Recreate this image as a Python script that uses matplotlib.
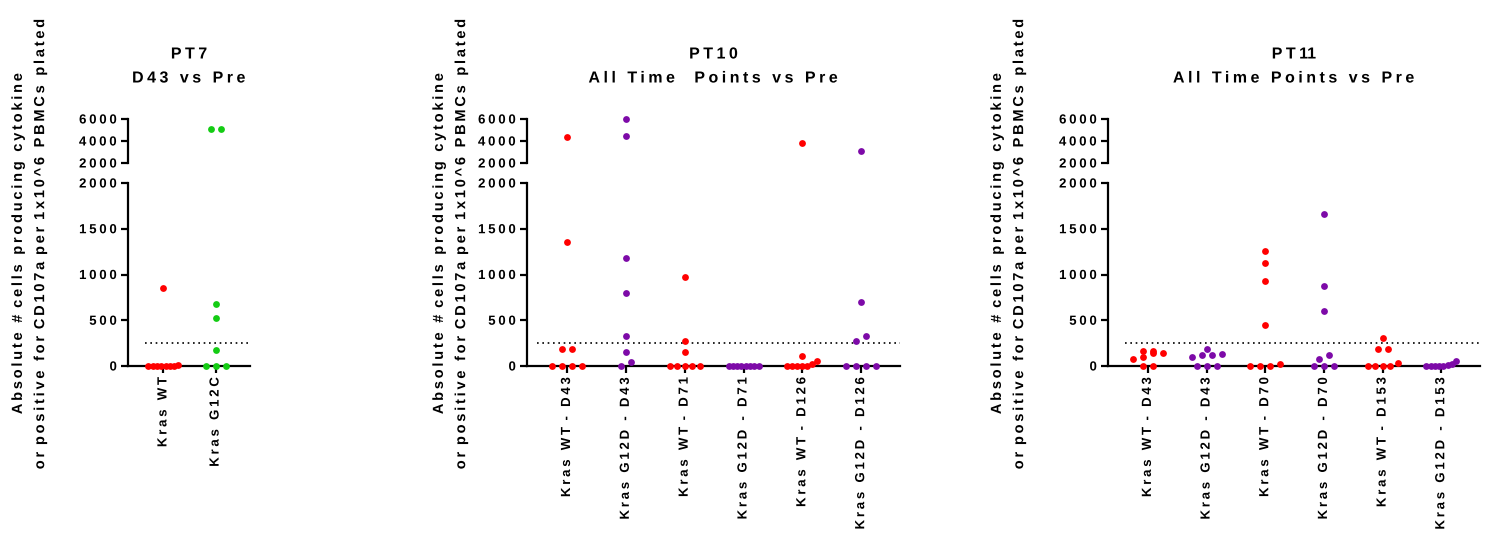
import numpy as np
import matplotlib
matplotlib.use("Agg")
import matplotlib.pyplot as plt
from matplotlib.patheffects import AbstractPathEffect
from matplotlib.path import Path

plt.rcParams['font.family'] = ['Liberation Sans', 'DejaVu Sans']
plt.rcParams['font.weight'] = 'bold'

RED = '#ff0000'
GREEN = '#14cc14'
PURPLE = '#7d0aa8'

# PT7
pt7_labels = ['Kras WT', 'Kras G12C']
pt7_colors = [RED, GREEN]
pt7_values = [
    [850, 10, 5, 0, 0, 0, 0, 0, 0],
    [5100, 5100, 680, 520, 170, 0, 0, 0],
]

# PT10
pt10_labels = ['Kras WT - D43', 'Kras G12D - D43', 'Kras WT - D71',
               'Kras G12D - D71', 'Kras WT - D126', 'Kras G12D - D126']
pt10_colors = [RED, PURPLE, RED, PURPLE, RED, PURPLE]
pt10_values = [
    [4330, 1360, 185, 185, 0, 0, 0, 0],
    [6000, 4480, 1175, 795, 325, 150, 45, 0],
    [975, 270, 153, 0, 0, 0, 0, 0],
    [0, 0, 0, 0, 0, 0, 0, 0],
    [3790, 105, 55, 20, 0, 0, 0, 0, 0],
    [3060, 700, 325, 270, 0, 0, 0, 0],
]

# PT11
pt11_labels = ['Kras WT - D43', 'Kras G12D - D43', 'Kras WT - D70',
               'Kras G12D - D70', 'Kras WT - D153', 'Kras G12D - D153']
pt11_colors = [RED, PURPLE, RED, PURPLE, RED, PURPLE]
pt11_values = [
    [160, 75, 140, 140, 95, 160, 0, 0],
    [115, 130, 125, 190, 95, 0, 0, 0],
    [1255, 1130, 925, 452, 20, 0, 0, 0],
    [1665, 875, 598, 117, 73, 0, 0, 0],
    [310, 186, 186, 30, 0, 0, 0, 0],
    [50, 25, 10, 0, 0, 0, 0, 0],
]

titles = ['PT7\nD43 vs Pre', 'PT10\nAll Time  Points vs Pre', 'PT11\nAll Time Points vs Pre']
ylabel = 'Absolute # cells producing cytokine\nor positive for CD107a per 1x10^6 PBMCs plated'
threshold = 250


class Tracking(AbstractPathEffect):
    """Spread glyphs apart (letter spacing), like the GraphPad export."""

    def __init__(self, em=0.2, anchor='center'):
        super().__init__()
        self.em = em
        self.anchor = anchor

    def draw_path(self, renderer, gc, tpath, affine, rgbFace=None):
        codes = tpath.codes
        if codes is None or len(codes) == 0:
            return renderer.draw_path(gc, tpath, affine, rgbFace)
        verts = tpath.vertices.copy()
        starts = list(np.nonzero(codes == Path.MOVETO)[0]) + [len(codes)]
        # group contours into glyphs by horizontal overlap
        groups = []
        for a, b in zip(starts[:-1], starts[1:]):
            xs = verts[a:b, 0]
            lo, hi = xs.min(), xs.max()
            if groups and lo < groups[-1][2] - 1 and hi > groups[-1][1] + 1:
                g = groups[-1]
                groups[-1] = (g[0] + [(a, b)], min(g[1], lo), max(g[2], hi))
            else:
                groups.append(([(a, b)], lo, hi))
        step = self.em * 100  # text paths use 100 units per em
        idx, k = [], 0
        for j, g in enumerate(groups):
            if j > 0:
                gap = g[1] - groups[j - 1][2]
                k += 1 + max(0, int((gap - 5) // 25))
            idx.append(k)
        last = idx[-1]
        for g, k in zip(groups, idx):
            shift = (k - last) * step if self.anchor == 'right' else (k - last / 2) * step
            for a, b in g[0]:
                verts[a:b, 0] += shift
        renderer.draw_path(gc, Path(verts, codes), affine, rgbFace)


W, H = 1491, 538
fig = plt.figure(figsize=(W / 100, H / 100), dpi=100)

# pixel layout: axis left, axis right, ylabel center x, dotted line start
panels = [
    (128, 250, 29, 145, pt7_labels, pt7_colors, pt7_values, titles[0]),
    (527, 900, 450, 537, pt10_labels, pt10_colors, pt10_values, titles[1]),
    (1108, 1480, 1008, 1125, pt11_labels, pt11_colors, pt11_values, titles[2]),
]
low_top, low_bot = 183, 366
up_top, up_bot = 119, 163


def to_fig(x0, x1, ytop, ybot):
    return [x0 / W, 1 - ybot / H, (x1 - x0) / W, (ybot - ytop) / H]


def swarm_offsets(vals, cat_px):
    # simple row based scatter spreading, works in pixel space
    vals = np.asarray(vals, dtype=float)
    ypx = np.where(vals <= 2000, vals * (low_bot - low_top) / 2000,
                   200 + (vals - 2000) * (up_bot - up_top) / 4000)
    order = np.argsort(ypx, kind='stable')
    offs = np.zeros(len(vals))
    rows, cur = [], [order[0]]
    for i in order[1:]:
        if ypx[i] - ypx[cur[0]] <= 6:
            cur.append(i)
        else:
            rows.append(cur)
            cur = [i]
    rows.append(cur)
    for r in rows:
        n = len(r)
        if n == 1:
            continue
        step = min(10, 30 / (n - 1))
        for k, i in enumerate(r):
            offs[i] = (k - (n - 1) / 2) * step / cat_px
    return offs


for x0, x1, ylx, dot0, labels, colors, values, title in panels:
    n = len(labels)
    ax = fig.add_axes(to_fig(x0, x1, low_top, low_bot))
    axu = fig.add_axes(to_fig(x0, x1, up_top, up_bot))
    xlim = (-0.68, n - 1 + 0.66)
    cat_px = (x1 - x0) / (xlim[1] - xlim[0])

    for i, (vals, c) in enumerate(zip(values, colors)):
        vals = np.asarray(vals, dtype=float)
        xs = i + swarm_offsets(vals, cat_px)
        lo = vals <= 2000
        ax.plot(xs[lo], vals[lo], 'o', color=c, ms=4.9, mec='none', clip_on=False, zorder=3)
        axu.plot(xs[~lo], vals[~lo], 'o', color=c, ms=4.9, mec='none', clip_on=False, zorder=3)

    ax.axhline(threshold, xmin=(dot0 - x0) / (x1 - x0), xmax=1, color='black', lw=1.2,
               linestyle=(0, (1, 2.2)), zorder=1)

    ax.set_xlim(*xlim)
    ax.set_ylim(0, 2000)
    ax.set_yticks([0, 500, 1000, 1500, 2000])
    ax.set_xticks(range(n))
    ax.set_xticklabels(labels, rotation=90, fontsize=9.5, fontweight='bold')
    for s in ['top', 'right']:
        ax.spines[s].set_visible(False)
    for s in ['left', 'bottom']:
        ax.spines[s].set_linewidth(1.6)
    ax.tick_params(axis='both', width=1.6, length=5, labelsize=9.5, pad=3)

    axu.set_xlim(*xlim)
    axu.set_ylim(2000, 6000)
    axu.set_yticks([2000, 4000, 6000])
    axu.set_xticks([])
    for s in ['top', 'right', 'bottom']:
        axu.spines[s].set_visible(False)
    axu.spines['left'].set_linewidth(1.6)
    axu.tick_params(axis='y', width=1.6, length=5, labelsize=9.5, pad=3)
    axu.patch.set_alpha(0)

    for t in ax.get_yticklabels() + axu.get_yticklabels() + ax.get_xticklabels():
        t.set_fontweight('bold')
        t.set_path_effects([Tracking(0.21, 'right')])

    fig.text((x0 + x1) / 2 / W, 1 - 66 / H, title, ha='center', va='center',
             fontsize=11.5, fontweight='bold', linespacing=1.75,
             path_effects=[Tracking(0.22)])
    fig.text(ylx / W, 1 - 243 / H, ylabel, ha='center', va='center', rotation=90,
             fontsize=10.5, fontweight='bold', linespacing=1.75, multialignment='center',
             path_effects=[Tracking(0.19)])

fig.savefig('out.png', dpi=100)
